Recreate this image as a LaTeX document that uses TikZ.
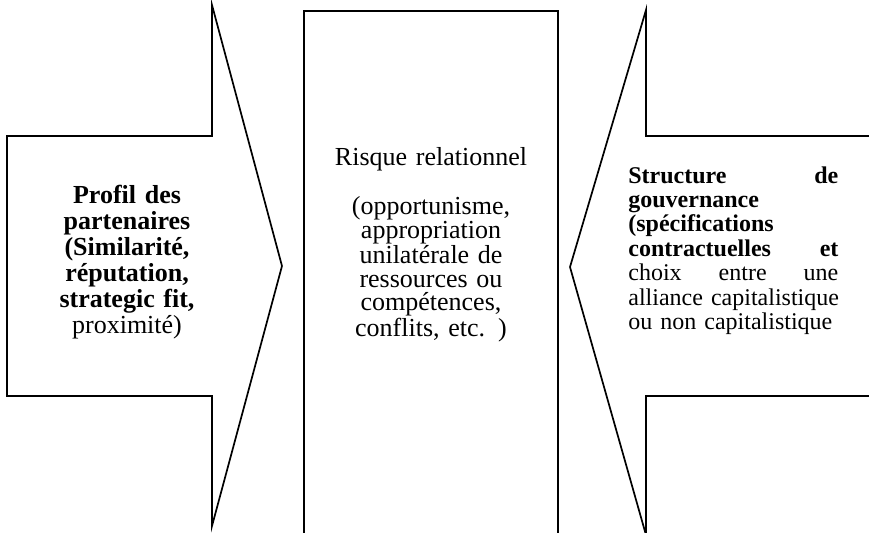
\documentclass[tikz,border=0pt]{standalone}
\usepackage{fontspec}
\setmainfont{Liberation Serif}
\usetikzlibrary{positioning}
\tikzstyle{contour} = [line width = 0.85pt, draw = black, line join = miter]
\tikzstyle{texte} = [inner sep = 0pt, font = \fontsize{13}{13}\selectfont]
\newcommand{\largeurdroite}{105pt}
\newcommand{\pleine}[1]{\makebox[\largeurdroite][l]{#1}}

\begin{document}
\begin{tikzpicture}[x = 0.5pt, y = -0.5pt]
	% Cadre
	\path[use as bounding box] (0, 0) rectangle (869, 532);
	\clip (0, 0) rectangle (869, 532);
	% Variables
	\pgfmathsetmacro{\haut}{136}
	\pgfmathsetmacro{\bas}{396}
	% Flèche gauche
	\draw[contour] (7, \haut) -- (212, \haut) -- (212, 5) -- (282, 266) -- (212, 526) -- (212, \bas) -- (7, \bas) -- cycle;
	% Rectangle central
	\draw[contour] (304, 545) -- (304, 11) -- (558, 11) -- (558, 545);
	% Flèche droite
	\draw[contour] (880, \haut) -- (646, \haut) -- (646, 10) -- (570, 267) -- (646, 535) -- (646, \bas) -- (880, \bas);
	% Textes
	\node[texte, anchor = north, align = center, text width = 100pt] (profil) at (127, 185)
		{\bfseries Profil des\\ partenaires\\ (Similarité,\\ réputation,\\ strategic fit,\\ \mdseries proximité)};
	\node[texte, anchor = north, align = center, text width = 120pt, font = \fontsize{13}{11.75}\selectfont] (risque) at (431, 147)
		{Risque relationnel\\[11.75pt] (opportunisme,\\ appropriation\\ unilatérale de\\ ressources ou\\ compétences,\\ conflits, etc. )};
	\node[texte, anchor = north west, align = left, text width = \largeurdroite, font = \fontsize{12}{12.2}\selectfont] (gouvernance) at (628, 166)
		{\pleine{\textbf{Structure}\hfill\textbf{de}}\\ \textbf{gouvernance}\\ \textbf{(spécifications}\\ \pleine{\textbf{contractuelles}\hfill\textbf{et}}\\ \pleine{choix\hfill entre\hfill une}\\ \pleine{alliance capitalistique}\\ ou non capitalistique};
\end{tikzpicture}
\end{document}
